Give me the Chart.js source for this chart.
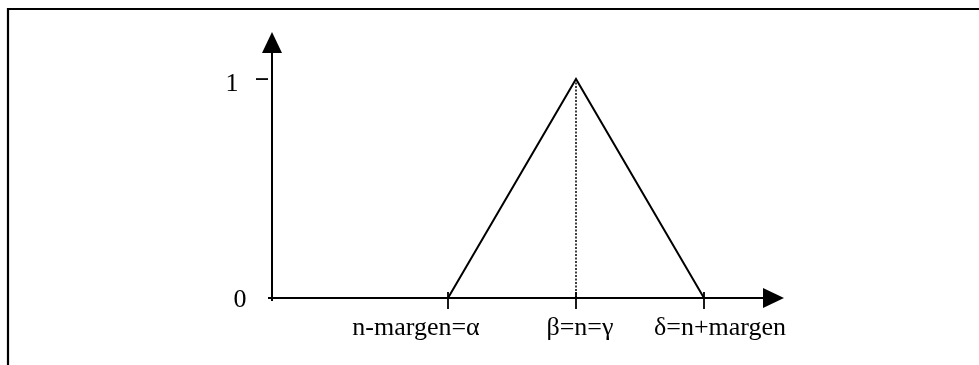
<!DOCTYPE html>
<html>
<head>
<meta charset="utf-8">
<script src="https://cdn.jsdelivr.net/npm/chart.js@4"></script>
<style>
  html, body { margin: 0; padding: 0; background: #fff; }
  canvas { display: block; }
</style>
</head>
<body>
<canvas id="chart" width="979" height="365"></canvas>
<script>
// membership function (triangle) values
const xLabels  = ["n-margen=α", "β=n=γ", "δ=n+margen"];
const xValues  = [11, 19, 27];
const yValues  = [0, 1, 0];
const yTicks   = [0, 1];
const yTickLabels = ["0", "1"];

const FONT = '26px "Liberation Serif", "Times New Roman", serif';

//-----------------------------------------------------------------------------
// hand drawn axes, arrows, ticks and labels, placed from the chart scales
//-----------------------------------------------------------------------------
const axesPlugin = {
    id: "axesPlugin",
    afterDatasetsDraw(chart) {
        const ctx = chart.ctx;
        const xs = chart.scales.x;
        const ys = chart.scales.y;
        const x0 = xs.getPixelForValue(0);
        const y0 = ys.getPixelForValue(0);
        const xEnd = xs.getPixelForValue(xs.max);
        const yEnd = ys.getPixelForValue(ys.max);

        ctx.save();
        ctx.strokeStyle = "#000";
        ctx.fillStyle = "#000";

        // frame (top + left only)
        ctx.lineWidth = 2.2;
        ctx.beginPath();
        ctx.moveTo(8, 365);
        ctx.lineTo(8, 9);
        ctx.lineTo(979, 9);
        ctx.stroke();

        // axis lines
        ctx.lineWidth = 2;
        ctx.beginPath();
        ctx.moveTo(x0, y0 + 3);
        ctx.lineTo(x0, yEnd + 21);
        ctx.moveTo(x0 - 4, y0);
        ctx.lineTo(xEnd - 21, y0);
        ctx.stroke();

        // arrow heads
        ctx.beginPath();
        ctx.moveTo(x0, yEnd);
        ctx.lineTo(x0 - 10, yEnd + 21);
        ctx.lineTo(x0 + 10, yEnd + 21);
        ctx.closePath();
        ctx.fill();
        ctx.beginPath();
        ctx.moveTo(xEnd, y0);
        ctx.lineTo(xEnd - 21, y0 - 10);
        ctx.lineTo(xEnd - 21, y0 + 10);
        ctx.closePath();
        ctx.fill();

        // x ticks
        ctx.lineWidth = 1.8;
        xValues.forEach(v => {
            const px = xs.getPixelForValue(v);
            ctx.beginPath();
            ctx.moveTo(px, y0 - 6);
            ctx.lineTo(px, y0 + 11);
            ctx.stroke();
        });

        // y tick (only at 1, a short dash left of the axis)
        yTicks.forEach(v => {
            if (v === 0) return;
            const py = ys.getPixelForValue(v);
            ctx.beginPath();
            ctx.moveTo(x0 - 16, py);
            ctx.lineTo(x0 - 4, py);
            ctx.stroke();
        });

        // labels
        ctx.font = FONT;
        ctx.textAlign = "center";
        ctx.textBaseline = "alphabetic";
        const xLabelShift = [-32, 4, 16];
        xLabels.forEach((lbl, i) => {
            ctx.fillText(lbl, xs.getPixelForValue(xValues[i]) + xLabelShift[i], y0 + 37);
        });
        const yLabelShift = [[-32, 9], [-40, 12]];
        yTicks.forEach((v, i) => {
            ctx.fillText(yTickLabels[i], x0 + yLabelShift[i][0], ys.getPixelForValue(v) + yLabelShift[i][1]);
        });
        ctx.restore();
    }
};

const ctx = document.getElementById("chart").getContext("2d");
new Chart(ctx, {
    type: "scatter",
    data: {
        datasets: [
            {
                data: xValues.map((x, i) => ({ x, y: yValues[i] })),
                showLine: true,
                borderColor: "#000",
                borderWidth: 2,
                pointRadius: 0,
                tension: 0,
                clip: false
            },
            {
                // dotted line from the peak down to the axis
                data: [{ x: xValues[1], y: 0 }, { x: xValues[1], y: yValues[1] }],
                showLine: true,
                borderColor: "#000",
                borderWidth: 1.5,
                borderDash: [2, 1.5],
                pointRadius: 0,
                clip: false
            }
        ]
    },
    options: {
        responsive: false,
        animation: false,
        layout: { padding: { left: 272, right: 195, top: 32, bottom: 67 } },
        plugins: {
            legend: { display: false },
            tooltip: { enabled: false }
        },
        scales: {
            x: { type: "linear", min: 0, max: 32, display: false },
            y: { type: "linear", min: 0, max: 1.215, display: false }
        }
    },
    plugins: [axesPlugin]
});
</script>
</body>
</html>
